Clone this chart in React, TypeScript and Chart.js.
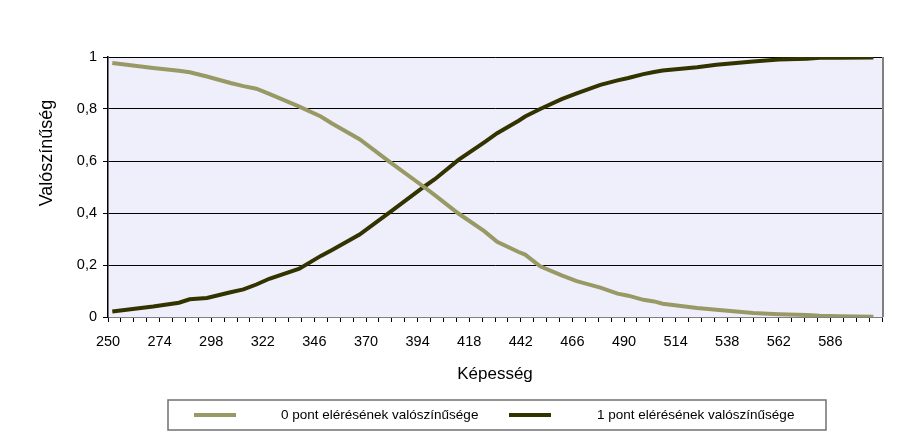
import React, { useEffect, useRef } from "react";
import { Chart, registerables } from "chart.js";

Chart.register(...registerables);

const xValues = [252, 271, 283, 288, 296, 307, 313, 319, 325, 339, 349, 354, 367, 381, 397, 402, 413, 425, 431, 441, 444, 451, 461, 468, 479, 487, 492, 499, 504, 508, 524, 533, 550, 562, 575, 581, 590, 606];
const prob0 = [0.977, 0.958, 0.947, 0.941, 0.925, 0.9, 0.888, 0.878, 0.858, 0.809, 0.771, 0.745, 0.684, 0.597, 0.5, 0.469, 0.398, 0.33, 0.289, 0.25, 0.24, 0.195, 0.16, 0.138, 0.113, 0.09, 0.082, 0.066, 0.06, 0.051, 0.035, 0.028, 0.015, 0.011, 0.008, 0.005, 0.003, 0.001];
const prob1 = [0.021, 0.04, 0.055, 0.068, 0.073, 0.095, 0.106, 0.125, 0.147, 0.186, 0.235, 0.257, 0.317, 0.402, 0.501, 0.53, 0.604, 0.672, 0.707, 0.755, 0.771, 0.8, 0.838, 0.86, 0.893, 0.91, 0.919, 0.934, 0.942, 0.948, 0.961, 0.97, 0.983, 0.99, 0.993, 0.997, 0.997, 0.998];
const seriesNames = ["0 pont elérésének valószínűsége", "1 pont elérésének valószínűsége"];
const seriesColors = ["#999966", "#333300"];
const xMin = 250;
const xMax = 610;
const xStep = 6;
const xLabelStep = 24;
const xLastLabel = 586;
const xTitle = "Képesség";
const yTitle = "Valószínűség";

const FONT = "'Liberation Sans', Arial, sans-serif";

export default function App() {
  const ref = useRef<HTMLCanvasElement | null>(null);
  useEffect(() => {
    document.body.style.margin = "0";
    const canvas = ref.current;
    if (!canvas) return;
    const decor = {
      id: "decor",
      beforeDraw(chart: any) {
        const { ctx, chartArea: a } = chart;
        ctx.save();
        ctx.fillStyle = "#EFEFFC";
        ctx.fillRect(a.left, a.top, a.right - a.left, a.bottom - a.top);
        ctx.restore();
      },
      afterDraw(chart: any) {
        const { ctx, chartArea: a } = chart;
        ctx.save();
        // right border
        ctx.strokeStyle = "#808080";
        ctx.lineWidth = 2;
        ctx.beginPath();
        ctx.moveTo(a.right + 1, a.top);
        ctx.lineTo(a.right + 1, a.bottom);
        ctx.stroke();
        // titles
        ctx.fillStyle = "#000";
        ctx.font = `17px ${FONT}`;
        ctx.textAlign = "center";
        ctx.textBaseline = "middle";
        ctx.fillText(xTitle, (a.left + a.right) / 2, 374);
        ctx.save();
        ctx.translate(47, 153);
        ctx.rotate(-Math.PI / 2);
        ctx.font = `18px ${FONT}`;
        ctx.fillText(yTitle, 0, 0);
        ctx.restore();
        // legend
        const lx = 168, ly = 400, lw = 658, lh = 30;
        ctx.fillStyle = "#fff";
        ctx.fillRect(lx, ly, lw, lh);
        ctx.strokeStyle = "#707070";
        ctx.lineWidth = 1.5;
        ctx.strokeRect(lx, ly, lw, lh);
        const items = chart.data.datasets;
        const sx = [194, 509];
        const tx = [281, 597];
        ctx.font = `13.5px ${FONT}`;
        ctx.textAlign = "left";
        items.forEach((ds: any, i: number) => {
          ctx.strokeStyle = ds.borderColor;
          ctx.lineWidth = 4;
          ctx.beginPath();
          ctx.moveTo(sx[i], ly + lh / 2);
          ctx.lineTo(sx[i] + 42, ly + lh / 2);
          ctx.stroke();
          ctx.fillStyle = "#000";
          ctx.fillText(ds.label, tx[i], ly + lh / 2);
        });
        ctx.restore();
      },
    };
    const chart = new Chart(canvas, {
      type: "line",
      data: {
        datasets: [prob0, prob1].map((arr, i) => ({
          label: seriesNames[i],
          data: xValues.map((x, j) => ({ x, y: arr[j] })),
          borderColor: seriesColors[i],
          borderWidth: 4,
          pointRadius: 0,
          tension: 0,
          fill: false,
        })),
      },
      options: {
        animation: false,
        responsive: false,
        maintainAspectRatio: false,
        layout: { padding: { top: 57, right: 42, bottom: 0, left: 0 } },
        plugins: { legend: { display: false }, tooltip: { enabled: false } },
        scales: {
          x: {
            type: "linear",
            min: xMin,
            max: xMax,
            afterFit(s: any) { s.height = 125; },
            grid: { drawOnChartArea: false, drawTicks: true, tickLength: 5, color: "#000" },
            border: { color: "#808080", width: 1 },
            ticks: {
              stepSize: xStep,
              autoSkip: false,
              maxRotation: 0,
              minRotation: 0,
              padding: 11,
              color: "#000",
              font: { family: FONT, size: 14.5 },
              callback: (v: any) => {
                const n = Number(v);
                return (n - xMin) % xLabelStep === 0 && n <= xLastLabel ? String(n) : "";
              },
            },
          },
          y: {
            min: 0,
            max: 1,
            afterFit(s: any) { s.width = 108; },
            grid: { color: "#000", lineWidth: 1, tickLength: 5, drawTicks: true },
            border: { color: "#000", width: 1.5 },
            ticks: {
              stepSize: 0.2,
              padding: 6,
              color: "#000",
              font: { family: FONT, size: 14.5 },
              callback: (v: any) => String(Math.round(Number(v) * 10) / 10).replace(".", ","),
            },
          },
        },
      },
      plugins: [decor],
    });
    return () => chart.destroy();
  }, []);
  return <canvas ref={ref} width={924} height={442} style={{ display: "block" }} />;
}
